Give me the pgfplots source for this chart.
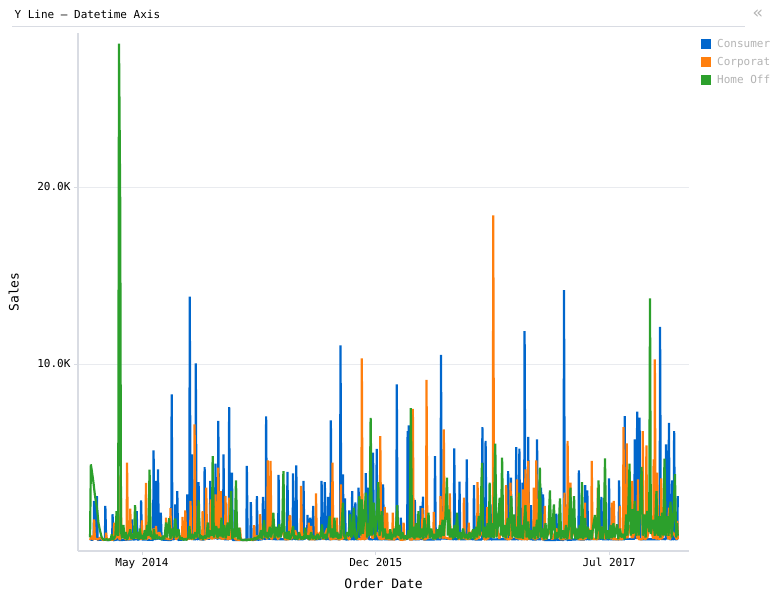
\documentclass[border=0pt]{standalone}
\usepackage{fontspec}
\setmainfont{DejaVu Sans Mono}
\usepackage{pgfplots}
\pgfplotsset{compat=1.18}
\definecolor{cblue}{HTML}{0066CC}
\definecolor{corange}{HTML}{FF7F0E}
\definecolor{cgreen}{HTML}{2CA02C}
\definecolor{axisgrey}{HTML}{D9DCE3}
\definecolor{gridgrey}{HTML}{E9EBEF}
\definecolor{legtext}{HTML}{B3B3B3}
\begin{document}
\begin{tikzpicture}[x=1pt,y=1pt]
\path[use as bounding box] (0,0) rectangle (776,600);
\node[anchor=west,font=\fontsize{11}{13}\selectfont] at (11,586) {Y Line – Datetime Axis};
\draw[color=axisgrey,line width=1pt] (12,573) -- (745,573);
\node[font=\fontsize{17}{17}\selectfont,text=legtext] at (758,586) {«};
\begin{axis}[
  at={(78pt,49pt)},anchor=south west,
  width=611pt,height=518pt,scale only axis,
  xmin=-30,xmax=1490,ymin=-565,ymax=28700,
  axis x line=bottom,axis y line=left,
  axis line style={-,color=axisgrey,line width=1.6pt},
  scaled y ticks=false,
  xtick={129,711,1291},xticklabels={May 2014,Dec 2015,Jul 2017},
  ytick={10000,20000},yticklabels={10.0K,20.0K},
  ymajorgrids,grid style={color=gridgrey,line width=0.8pt},
  tick align=outside,major tick length=4pt,
  tick style={color=axisgrey,line width=0.8pt},
  tick label style={font=\fontsize{11}{13}\selectfont,color=black},
  xlabel={Order Date},ylabel={Sales},
  every axis x label/.style={at={(axis description cs:0.5,-0.064)},anchor=center,font=\fontsize{13}{15}\selectfont},
  every axis y label/.style={at={(axis description cs:-0.105,0.5)},rotate=90,anchor=center,font=\fontsize{13}{15}\selectfont},
  legend style={at={(axis description cs:1.0196,0.990)},anchor=north west,draw=none,fill=none,
    font=\fontsize{11}{13}\selectfont,text=legtext,inner xsep=0pt,inner ysep=0pt,
    row sep=6pt,column sep=4pt,nodes={inner xsep=2pt,inner ysep=1pt}},
  legend cell align=left,
  legend image code/.code={\fill[#1,draw=none] (0pt,-5pt) rectangle (10pt,5pt);},
  clip=false,
  every axis plot/.append style={line width=2.2pt,line join=bevel,sharp plot,no marks},
]
\addplot[color=cblue] coordinates {
(0,100)(5,60)(9,120)(10,2260)(12,200)(16,100)(17,2540)(19,60)(37,90)(38,1980)(40,50)(55,70)(56,1510)(58,40)(69,90)(70,1510)(72,50)
(103,90)(104,1220)(106,80)(115,100)(116,1690)(118,70)(126,120)(127,2300)(129,90)(157,60)(158,5120)(160,120)(163,100)(164,3390)(166,150)(168,90)(169,4050)(171,200)(175,100)(176,1600)(178,80)
(202,50)(203,8290)(205,90)(211,120)(212,2070)(214,100)(216,150)(217,2820)(219,60)(241,100)(242,2640)(244,200)(247,90)(248,13800)(250,300)(253,150)(254,4900)(256,100)(262,90)(263,10040)(265,120)(269,90)(270,3330)(272,100)
(284,80)(285,4180)(287,150)(298,120)(299,3390)(301,200)(311,150)(312,4370)(314,200)(318,100)(319,6780)(321,160)(331,120)(332,4900)(334,100)(345,90)(346,7570)(348,200)(352,120)(353,3860)(355,60)
(389,50)(390,4240)(392,60)(399,90)(400,2200)(402,50)(414,80)(415,2540)(417,70)(429,100)(430,2490)(432,150)(437,100)(438,7040)(440,140)(468,90)(469,3730)(471,100)(490,90)(491,3900)(493,120)
(504,100)(505,3820)(507,150)(512,90)(513,4270)(515,100)(530,90)(531,3390)(533,120)(540,200)(541,1470)(543,100)(547,100)(548,1320)(550,100)(554,120)(555,1980)(557,90)
(575,120)(576,3390)(578,200)(583,100)(584,3330)(586,90)(591,120)(592,2490)(594,100)(598,90)(599,6820)(601,120)(622,100)(623,11050)(625,200)(628,200)(629,3770)(631,120)(633,90)(634,2410)(636,80)
(644,100)(645,1730)(647,120)(651,90)(652,2820)(654,100)(659,90)(660,2180)(662,100)(667,90)(668,3010)(670,200)(685,100)(686,3840)(688,150)(691,150)(692,3010)(694,100)(703,90)(704,4990)(706,120)(712,90)(713,5200)(715,90)(728,100)(729,3200)(731,100)
(762,100)(763,8850)(765,120)(772,90)(773,1320)(775,90)(789,120)(790,6210)(792,300)(793,6530)(795,90)(807,100)(808,2320)(810,90)(821,100)(822,1980)(824,120)(827,100)(828,2500)(830,90)
(857,90)(858,4800)(860,100)(872,90)(873,10510)(875,150)(905,100)(906,5230)(908,90)(918,120)(919,3350)(921,100)(936,100)(937,4610)(939,120)(954,100)(955,3160)(957,90)(975,90)(976,6440)(978,150)(983,100)(984,5650)(986,100)
(995,100)(996,2070)(998,90)(1039,100)(1040,3950)(1042,120)(1046,120)(1047,3580)(1049,90)(1059,100)(1060,5310)(1062,100)(1067,90)(1068,5220)(1070,120)(1075,90)(1076,3300)(1078,100)(1080,120)(1081,11860)(1083,120)(1089,100)(1090,5880)(1092,120)(1096,100)(1097,2030)(1099,90)
(1111,90)(1112,5740)(1114,100)(1121,90)(1122,3010)(1124,100)(1126,100)(1127,2640)(1129,60)(1159,50)(1160,1540)(1162,70)(1178,60)(1179,14180)(1181,100)(1184,90)(1185,1470)(1187,60)
(1215,100)(1216,3990)(1218,90)(1231,90)(1232,3160)(1234,90)(1236,100)(1237,2860)(1239,100)(1271,120)(1272,2490)(1274,100)(1290,90)(1291,3540)(1293,100)(1315,90)(1316,3430)(1318,100)
(1329,90)(1330,7060)(1332,120)(1354,120)(1355,5740)(1357,200)(1360,150)(1361,7310)(1363,400)(1366,300)(1367,6970)(1369,100)(1417,100)(1418,12090)(1420,120)(1432,100)(1433,5460)(1435,200)(1439,120)(1440,6680)(1442,100)(1447,90)(1448,3430)(1450,100)(1452,90)(1453,6210)(1455,100)(1461,100)(1462,2540)
};
\addlegendentry{Consumer}
\addplot[color=corange] coordinates {
(0,60)(4,300)(7,100)(9,90)(10,1220)(12,150)(20,90)(26,200)(32,60)(39,70)(40,470)(42,50)(50,120)(55,60)(59,90)(60,1040)(62,100)(68,300)(74,90)(75,100)(76,3730)(78,150)(84,500)(88,90)(91,100)(92,4430)(94,90)(99,120)(100,1830)(102,80)(108,400)(114,150)(120,300)(128,90)(129,1170)(131,200)(138,120)(139,3280)(141,90)
(147,300)(152,100)(158,700)(163,150)(164,850)(166,120)(172,500)(178,150)(183,250)(188,100)(189,1320)(191,120)(199,100)(200,1850)(202,90)(208,400)(214,90)(222,300)(229,90)(230,1360)(232,150)(236,100)(237,1730)(239,90)(249,150)(250,2260)(252,100)(259,150)(260,6590)(262,150)
(270,400)(275,100)(279,100)(280,1690)(282,120)(288,100)(289,3010)(291,150)(299,200)(300,2350)(302,120)(311,200)(312,2640)(314,200)(318,150)(319,4140)(321,200)(324,200)(325,2820)(327,120)(336,150)(337,2540)(339,150)(345,100)(346,2450)(348,100)
(355,300)(362,90)(372,60)(373,750)(375,70)(385,50)(395,80)(407,60)(408,900)(410,50)(416,300)(422,120)(423,1510)(425,100)(435,300)(441,120)(442,4560)(444,300)(448,300)(449,4520)(451,90)(460,400)(468,100)(478,600)(485,90)(495,100)(496,1410)(498,1410)(500,100)
(510,600)(517,100)(524,150)(525,3110)(527,100)(536,500)(543,100)(544,1040)(546,100)(549,100)(550,850)(552,90)(561,100)(562,2690)(564,100)(572,500)(580,90)(590,700)(597,100)(602,100)(603,4430)(605,120)(613,150)(614,1320)(616,100)(623,100)(624,3200)(626,90)
(636,300)(645,80)(655,700)(665,120)(675,100)(676,10320)(678,120)(684,100)(685,1880)(687,100)(695,600)(703,150)(712,500)(721,90)(722,5930)(724,100)(732,150)(733,1920)(735,120)(738,150)(739,1600)(741,100)(752,90)(753,1600)(755,60)
(765,300)(772,70)(779,60)(780,1040)(782,50)(790,300)(796,80)(802,90)(803,7460)(805,120)(812,100)(813,380)(815,100)(826,200)(827,1850)(829,100)(836,100)(837,9100)(839,120)(847,500)(854,100)(855,1640)(857,90)(864,500)(871,150)(872,2540)(874,300)(879,150)(880,6310)(882,200)(894,120)(895,2690)(897,90)
(908,500)(918,80)(924,400)(929,120)(930,2450)(932,150)(941,100)(942,1040)(944,100)(952,600)(958,100)(963,120)(964,3330)(966,150)(975,500)(981,90)(987,100)(988,1920)(990,100)(996,700)
(1002,200)(1003,18400)(1005,200)(1012,800)(1018,120)(1026,700)(1034,100)(1035,3160)(1037,100)(1045,100)(1046,3300)(1048,100)(1054,800)(1061,120)(1062,3480)(1064,150)(1076,100)(1077,2920)(1079,100)(1082,100)(1083,4050)(1085,100)(1089,100)(1090,4520)(1092,90)
(1098,600)(1103,100)(1104,3010)(1106,100)(1109,100)(1110,4560)(1112,120)(1120,500)(1125,100)(1130,90)(1131,1980)(1133,90)(1142,600)(1150,90)(1160,700)(1170,100)(1179,100)(1180,2730)(1182,200)(1187,120)(1188,5650)(1190,150)(1194,150)(1195,3300)(1197,100)
(1206,800)(1215,100)(1230,100)(1231,2170)(1233,120)(1240,700)(1247,90)(1248,4520)(1250,120)(1262,100)(1263,3010)(1265,100)(1274,800)(1282,100)(1290,600)(1297,100)(1298,2170)(1300,100)(1302,100)(1303,2260)(1305,100)(1317,90)(1318,1980)(1320,90)
(1326,120)(1327,6440)(1329,200)(1334,200)(1335,5520)(1337,150)(1342,900)(1348,150)(1349,3390)(1351,150)(1356,900)(1362,120)(1363,3480)(1365,100)(1374,100)(1375,6210)(1377,150)(1383,100)(1384,5400)(1386,150)(1393,900)(1401,120)(1402,4610)(1404,300)(1405,10260)(1407,150)(1410,120)(1411,3860)(1413,120)(1420,120)(1421,3540)(1423,100)(1430,800)(1439,100)(1440,1880)(1442,80)(1450,500)(1460,90)(1461,1130)(1462,100)
};
\addlegendentry{Corporat}
\addplot[color=cgreen] coordinates {
(0,200)(2,4330)(8,3390)(12,2600)(17,1880)(21,1000)(25,560)(29,200)(33,90)(37,60)(41,110)(45,40)(48,90)(51,60)(54,380)(57,70)(60,160)(63,300)(66,1690)(68,500)(70,300)(72,28100)(75,19000)(77,500)(80,150)(83,900)(86,120)(89,500)(92,80)(96,300)(100,660)(103,100)(106,400)(109,120)(112,2030)(115,150)(118,500)(121,90)(124,700)(127,120)(130,350)(133,80)(136,600)(139,100)(142,900)(145,300)(148,4030)(151,250)(154,300)(156,100)(159,660)(162,90)(166,350)(170,120)(174,200)(178,70)(181,300)(185,100)(189,1040)(192,200)(197,1280)(200,130)(204,700)(208,180)(212,1280)(215,200)(220,660)(224,80)(228,200)(232,60)(236,120)(240,60)(244,200)(247,850)(250,100)(254,400)(258,90)(262,500)(266,200)(270,2300)(273,120)(277,300)(281,80)(285,300)(289,150)(293,1040)(296,200)(300,600)(303,300)(305,4800)(308,200)(311,500)(314,850)(317,150)(321,700)(324,250)(327,1320)(330,200)(334,900)(337,150)(340,500)(342,1040)(345,300)(348,800)(351,2820)(354,120)(357,700)(360,200)(363,3430)(366,250)(369,100)(371,750)(374,100)(378,60)(382,50)(386,80)(390,40)(394,70)(398,60)(402,120)(406,60)(410,200)(414,80)(418,300)(421,150)(425,600)(428,120)(433,1170)(436,200)(440,500)(443,150)(447,800)(450,200)(453,500)(456,1600)(459,150)(463,800)(467,200)(471,940)(474,200)(478,600)(481,3950)(484,150)(488,500)(491,100)(494,560)
(497,80)(501,300)(505,850)(508,100)(512,300)(516,80)(520,500)(524,100)(528,250)(532,90)(535,750)(538,150)(542,300)(546,70)(550,500)(554,100)(558,300)(562,80)(566,400)(570,100)(574,300)(577,940)(580,120)(584,400)(588,100)(592,600)(596,1410)(599,200)(603,700)(605,150)(608,1320)(611,200)(615,500)(618,100)(621,400)(624,150)(629,2170)(632,300)(636,100)(640,500)(644,300)(647,1510)(650,200)(653,400)(656,1880)(659,300)(663,100)(667,800)(670,2540)(673,300)(676,2350)(679,400)(682,1200)(686,2730)(689,200)(692,1000)(695,300)(698,6950)(701,300)(703,1500)(706,2170)(709,200)(713,1200)(717,3330)(720,300)(723,800)(726,1690)(729,200)(733,700)(737,100)(741,400)(744,100)(747,660)(750,80)(754,300)(757,700)(760,200)(764,2030)(767,300)(770,900)(773,100)(777,500)(781,100)(785,300)(789,90)(792,600)(795,150)(798,7510)(801,200)(804,800)(807,100)(811,1000)(814,200)(817,1690)(820,150)(824,700)(828,100)(832,1300)(835,200)(839,500)(842,1600)(845,150)(849,700)(853,90)(857,400)(860,100)(863,660)(866,150)(870,900)(873,200)(877,1200)(880,300)(884,1400)(888,3580)(890,300)(893,1790)(896,200)(900,700)(903,120)(907,900)(910,200)(913,1600)(916,100)(920,500)(924,90)(928,700)(932,150)(936,400)(940,100)(944,500)(948,120)(953,660)(956,100)(960,800)(963,200)(967,1410)(970,300)(975,4410)(978,200)(982,800)(985,150)(989,1000)(992,200)(994,3300)(997,200)
(1001,1000)(1004,150)(1008,5500)(1011,200)(1015,900)(1019,2450)(1022,300)(1025,4710)(1028,200)(1032,900)(1035,150)(1039,1300)(1042,300)(1048,2540)(1051,200)(1055,1500)(1058,200)(1061,800)(1064,150)(1067,2730)(1070,150)(1074,900)(1077,120)(1083,2030)(1086,200)(1090,1100)(1093,100)(1097,600)(1100,150)(1104,800)(1107,100)(1112,1200)(1115,150)(1119,4140)(1122,200)(1126,700)(1129,90)(1133,1000)(1136,100)(1140,500)(1144,2860)(1147,120)(1150,700)(1154,2070)(1157,100)(1161,500)(1165,150)(1169,2410)(1172,100)(1176,600)(1180,150)(1184,900)(1187,100)(1191,700)(1195,3010)(1198,120)(1201,600)(1204,2540)(1207,100)(1211,700)(1214,100)(1218,900)(1221,150)(1224,3330)(1227,100)(1231,1300)(1234,200)(1238,800)(1241,100)(1245,600)(1248,100)(1252,900)(1256,1470)(1259,100)(1262,800)(1265,3430)(1268,120)(1272,800)(1275,100)(1278,500)(1281,4670)(1284,120)(1288,600)(1291,100)(1295,900)(1298,150)(1302,1000)(1305,200)(1308,600)(1311,940)(1314,100)(1318,700)(1322,200)(1326,400)(1330,100)(1334,1500)(1337,300)(1342,4370)(1345,300)(1348,1800)(1351,400)(1355,2260)(1358,300)(1362,1700)(1365,300)(1369,2000)(1372,4180)(1375,300)(1379,1500)(1382,200)(1386,1700)(1391,500)(1393,13710)(1395,400)(1401,1200)(1405,300)(1409,2820)(1412,300)(1416,1400)(1419,200)(1423,1600)(1426,300)(1429,4650)(1432,300)(1436,1400)(1439,300)(1444,2220)(1447,200)(1451,1300)(1455,3770)(1458,200)(1460,1000)(1462,300)
};
\addlegendentry{Home Off}
\end{axis}
\end{tikzpicture}
\end{document}
